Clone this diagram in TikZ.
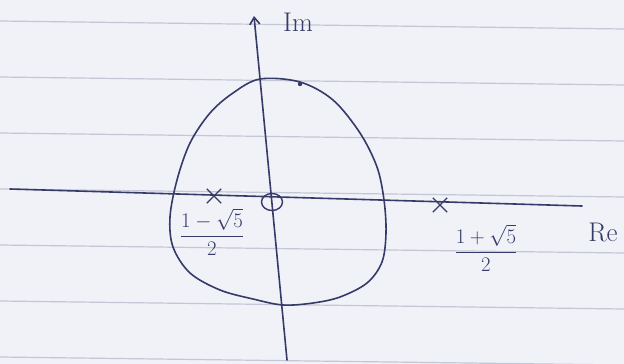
\documentclass[tikz,border=0pt]{standalone}
\usepackage{amsmath}
\usetikzlibrary{shapes.misc,shapes.geometric,arrows.meta}
\definecolor{paper}{HTML}{F1F2F8}
\definecolor{rule}{HTML}{C3C6D4}
\definecolor{ink}{HTML}{353A68}
\tikzset{
  ruling/.style={rule, line width=1.2pt},
  penline/.style={ink, line width=1.6pt, line cap=round},
  polemark/.style={cross out, draw=ink, line width=1.4pt, minimum size=13pt, inner sep=0pt},
  zeromark/.style={ellipse, draw=ink, line width=1.4pt, minimum width=21pt, minimum height=17pt, inner sep=0pt},
  lbl/.style={ink, inner sep=0pt, font=\fontsize{22}{26}\selectfont},
  axlbl/.style={ink, inner sep=0pt, font=\fontsize{27}{30}\selectfont}
}
\begin{document}
\begin{tikzpicture}[x=1pt,y=-1pt]
\fill[paper] (0,0) rectangle (624,364);
\useasboundingbox (0,0) rectangle (624,364);
% ruled lines
\foreach \yy in {21,77,133,189,245,301,357}
  \draw[ruling] (0,\yy) -- (624,\yy+8);
% axes
\coordinate (reL) at (10,189);
\coordinate (reR) at (582,206);
\coordinate (imB) at (287,360);
\coordinate (imT) at (254,16);
\draw[penline] (reL) -- (reR);
\draw[penline,-{Straight Barb[length=7pt,width=10pt]}] (imB) -- (imT);
% contour
\draw[penline] plot[smooth cycle, tension=0.55] coordinates {
  (260,79) (300,82) (333,100) (360,133) (377,167) (384,200)
  (386,233) (382,262) (367,283) (340,297) (313,303) (283,305)
  (253,299) (220,290) (190,273) (173,247) (170,217) (177,180)
  (190,143) (210,113) (233,93)};
\fill[ink] (300,84) circle (2.2pt);
% poles and zero
\node[polemark] (p1) at (214,196) {};
\node[polemark] (p2) at (440,205) {};
\node[zeromark] (z0) at (272,202) {};
% labels
\node[axlbl] (im) at (298,22) {Im};
\node[axlbl] (re) at (603,232) {Re};
\node[lbl] (l1) at (212,232) {$\dfrac{1-\sqrt5}{2}$};
\node[lbl] (l2) at (486,248) {$\dfrac{1+\sqrt5}{2}$};
\end{tikzpicture}
\end{document}
